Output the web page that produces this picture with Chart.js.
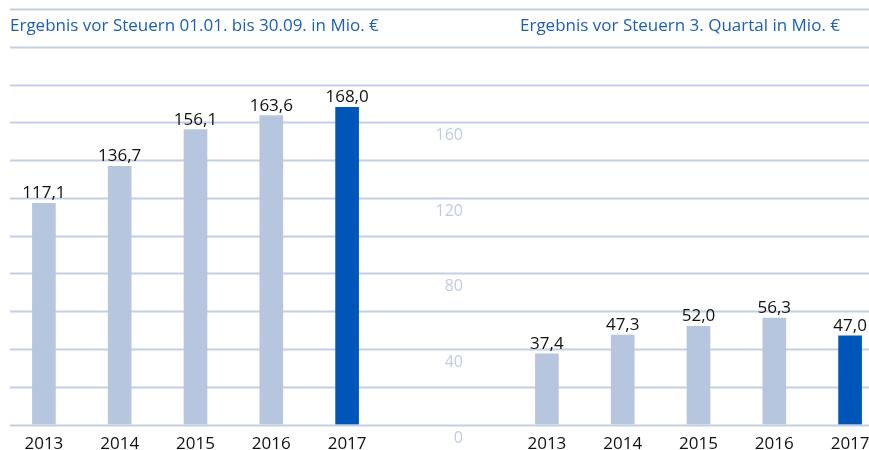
<!DOCTYPE html>
<html>
<head>
<meta charset="utf-8">
<script src="https://cdn.jsdelivr.net/npm/chart.js@4.4.0/dist/chart.umd.min.js"></script>
<style>
  html, body { margin: 0; padding: 0; background: #fff; overflow: hidden; }
  #wrap { position: relative; width: 869px; height: 450px; overflow: hidden; }
  .title { position: absolute; top: 15px; font: 17px "Open Sans"; line-height: 20px; color: #1a5eb8; white-space: nowrap; }
  canvas { position: absolute; top: 0; }
</style>
</head>
<body>
<div id="wrap">
  <canvas id="left" width="440" height="450" style="left:0"></canvas>
  <canvas id="right" width="468" height="450" style="left:420px"></canvas>
  <div class="title" style="left:10px">Ergebnis vor Steuern 01.01. bis 30.09. in Mio. €</div>
  <div class="title" style="left:520px">Ergebnis vor Steuern 3. Quartal in Mio. €</div>
</div>
<script>
// data
const years = ['2013', '2014', '2015', '2016', '2017'];
const ytdValues = [117.1, 136.7, 156.1, 163.6, 168.0];
const q3Values = [37.4, 47.3, 52.0, 56.3, 47.0];
const axisLabels = [0, 40, 80, 120, 160];

const LIGHT = '#b7c6df';
const DARK = '#0056b8';
const GRID = '#c3cfe4';
const barColors = years.map((_, i) => (i === years.length - 1 ? DARK : LIGHT));

const fmt = v => v.toFixed(1).replace('.', ',');

// horizontal lines across the whole canvas width, taken from the y scale
const fullGrid = {
  id: 'fullGrid',
  beforeDatasetsDraw(chart, args, opts) {
    const y = chart.scales.y;
    const ctx = chart.ctx;
    ctx.save();
    ctx.strokeStyle = GRID;
    ctx.lineWidth = 2;
    y.ticks.forEach(t => {
      const py = Math.round(y.getPixelForValue(t.value)) + 0.5;
      ctx.beginPath();
      ctx.moveTo(opts.from, py);
      ctx.lineTo(opts.to, py);
      ctx.stroke();
    });
    ctx.restore();
  }
};

const barValues = {
  id: 'barValues',
  afterDatasetsDraw(chart) {
    const ctx = chart.ctx;
    const data = chart.data.datasets[0].data;
    ctx.save();
    ctx.font = '17px "Open Sans"';
    ctx.fillStyle = '#111';
    ctx.textAlign = 'center';
    ctx.textBaseline = 'alphabetic';
    chart.getDatasetMeta(0).data.forEach((bar, i) => {
      ctx.fillText(fmt(data[i]), bar.x, bar.y - 5);
    });
    ctx.restore();
  }
};

// value labels of the middle axis, sitting a bit below their lines
const sideLabels = {
  id: 'sideLabels',
  afterDraw(chart, args, opts) {
    if (!opts.show) return;
    const y = chart.scales.y;
    const ctx = chart.ctx;
    ctx.save();
    ctx.font = '16px "Open Sans"';
    ctx.fillStyle = '#c0cce2';
    ctx.textAlign = 'right';
    ctx.textBaseline = 'alphabetic';
    axisLabels.forEach(v => ctx.fillText(String(v), opts.x, y.getPixelForValue(v) + 18));
    ctx.restore();
  }
};

function makeChart(id, values, padLeft, padRight, gridFrom, gridTo, side) {
  return new Chart(document.getElementById(id), {
    type: 'bar',
    data: {
      labels: years,
      datasets: [{
        data: values,
        backgroundColor: barColors,
        barThickness: 23,
        borderWidth: 0
      }]
    },
    options: {
      responsive: false,
      animation: false,
      layout: { padding: { left: padLeft, right: padRight, top: 9, bottom: 0 } },
      scales: {
        x: {
          grid: { display: false, drawTicks: false },
          border: { display: false },
          ticks: { color: '#111', font: { family: 'Open Sans', size: 17 }, padding: 9 },
          afterFit(scale) { scale.height = 25.5; }
        },
        y: {
          min: 0,
          max: 220,
          ticks: { display: false, stepSize: 20 },
          grid: { display: false, drawTicks: false },
          border: { display: false }
        }
      },
      plugins: {
        legend: { display: false },
        tooltip: { enabled: false },
        fullGrid: { from: gridFrom, to: gridTo },
        sideLabels: side
      }
    },
    plugins: [fullGrid, barValues, sideLabels]
  });
}

makeChart('left', ytdValues, 6, 55, 10, 440, { show: false });
makeChart('right', q3Values, 89, 0, 20, 468, { show: true, x: 43 });
</script>
</body>
</html>
